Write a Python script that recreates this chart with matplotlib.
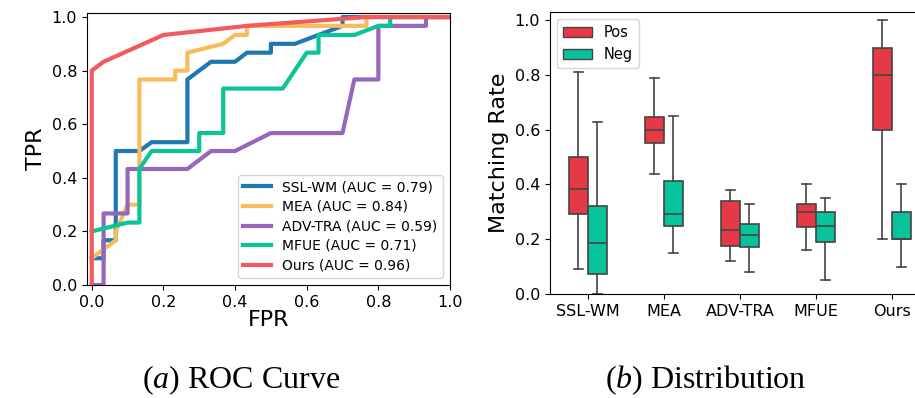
import matplotlib
matplotlib.use("Agg")
import matplotlib.pyplot as plt
from matplotlib.patches import Patch

# ---------------- data ----------------
roc_names = ["SSL-WM", "MEA", "ADV-TRA", "MFUE", "Ours"]
roc_auc = [0.79, 0.84, 0.59, 0.71, 0.96]
roc_colors = ["#1f77b4", "#f9bb5c", "#9467bd", "#0cc596", "#f25a5f"]

fpr_sslwm = [0, 0.033, 0.033, 0.067, 0.067, 0.133, 0.167, 0.267, 0.267, 0.333, 0.4, 0.433, 0.5, 0.5, 0.567, 0.7, 0.7, 1.0]
tpr_sslwm = [0.1, 0.1, 0.167, 0.167, 0.5, 0.5, 0.533, 0.533, 0.767, 0.833, 0.833, 0.867, 0.867, 0.9, 0.9, 0.967, 1.0, 1.0]

fpr_mea = [0, 0.067, 0.067, 0.1, 0.133, 0.133, 0.233, 0.233, 0.267, 0.267, 0.367, 0.4, 0.433, 0.433, 0.767, 0.767, 1.0]
tpr_mea = [0.1, 0.167, 0.2, 0.3, 0.3, 0.767, 0.767, 0.8, 0.8, 0.867, 0.9, 0.933, 0.933, 0.967, 0.967, 1.0, 1.0]

fpr_advtra = [0, 0.033, 0.033, 0.1, 0.1, 0.267, 0.333, 0.4, 0.5, 0.7, 0.733, 0.8, 0.8, 0.933, 0.933, 1.0]
tpr_advtra = [0, 0, 0.267, 0.267, 0.433, 0.433, 0.5, 0.5, 0.567, 0.567, 0.767, 0.767, 0.967, 0.967, 1.0, 1.0]

fpr_mfue = [0, 0.1, 0.133, 0.133, 0.167, 0.3, 0.3, 0.367, 0.367, 0.533, 0.6, 0.633, 0.633, 0.733, 0.8, 0.833, 0.833, 1.0]
tpr_mfue = [0.2, 0.233, 0.233, 0.433, 0.5, 0.5, 0.567, 0.567, 0.733, 0.733, 0.867, 0.867, 0.933, 0.933, 0.967, 0.967, 1.0, 1.0]

fpr_ours = [0, 0, 0.033, 0.2, 0.433, 0.767, 1.0]
tpr_ours = [0, 0.8, 0.833, 0.933, 0.967, 1.0, 1.0]

roc_fpr = [fpr_sslwm, fpr_mea, fpr_advtra, fpr_mfue, fpr_ours]
roc_tpr = [tpr_sslwm, tpr_mea, tpr_advtra, tpr_mfue, tpr_ours]

box_categories = ["SSL-WM", "MEA", "ADV-TRA", "MFUE", "Ours"]
# (whisker low, Q1, median, Q3, whisker high)
pos_stats = [
    (0.09, 0.292, 0.384, 0.50, 0.81),
    (0.44, 0.553, 0.60, 0.648, 0.79),
    (0.12, 0.177, 0.234, 0.34, 0.38),
    (0.16, 0.243, 0.30, 0.33, 0.40),
    (0.20, 0.60, 0.80, 0.90, 1.00),
]
neg_stats = [
    (0.00, 0.072, 0.188, 0.323, 0.63),
    (0.15, 0.25, 0.294, 0.411, 0.65),
    (0.08, 0.17, 0.215, 0.256, 0.33),
    (0.05, 0.191, 0.249, 0.299, 0.35),
    (0.10, 0.20, 0.20, 0.30, 0.40),
]
pos_color = "#e63946"
neg_color = "#06c39b"

# ---------------- figure ----------------
plt.rcParams["font.family"] = ["DejaVu Sans"]
plt.rcParams["mathtext.fontset"] = "custom"
plt.rcParams["mathtext.rm"] = "Liberation Serif"
plt.rcParams["mathtext.it"] = "Liberation Serif:italic"

fig = plt.figure(figsize=(9.15, 3.98), dpi=100)

# ROC axes
ax1 = fig.add_axes([0.0948, 0.2839, 0.4918 - 0.0948, 0.968 - 0.2839])
for name, auc, col, fx, ty in zip(roc_names, roc_auc, roc_colors, roc_fpr, roc_tpr):
    ax1.plot(fx, ty, color=col, lw=3, label=f"{name} (AUC = {auc:.2f})")
ax1.set_xlim(-0.014, 1.0)
ax1.set_ylim(0.0, 1.016)
ax1.set_xticks([0, 0.2, 0.4, 0.6, 0.8, 1.0])
ax1.set_yticks([0, 0.2, 0.4, 0.6, 0.8, 1.0])
ax1.tick_params(labelsize=11.5)
ax1.set_xlabel("FPR", fontsize=16, labelpad=0)
ax1.set_ylabel("TPR", fontsize=16, labelpad=4)
ax1.legend(loc="lower right", fontsize=10, labelspacing=0.4, handlelength=2.0)

# Box axes
ax2 = fig.add_axes([0.601, 0.2613, 380 / 915, 0.9698 - 0.2613])

def to_stats(s):
    lo, q1, med, q3, hi = s
    return dict(whislo=lo, q1=q1, med=med, q3=q3, whishi=hi, fliers=[])

edge = "#444444"
for i in range(len(box_categories)):
    for stats, off, col in ((pos_stats[i], -0.125, pos_color), (neg_stats[i], 0.125, neg_color)):
        ax2.bxp([to_stats(stats)], positions=[i + off], widths=0.25, patch_artist=True,
                showfliers=False,
                boxprops=dict(facecolor=col, edgecolor=edge, linewidth=1.2),
                whiskerprops=dict(color=edge, linewidth=1.2),
                capprops=dict(color=edge, linewidth=1.2),
                medianprops=dict(color=edge, linewidth=1.2))
ax2.set_xlim(-0.5, 4.5)
ax2.set_ylim(0.0, 1.03)
ax2.set_xticks(range(len(box_categories)))
ax2.set_xticklabels(box_categories)
ax2.set_yticks([0, 0.2, 0.4, 0.6, 0.8, 1.0])
ax2.tick_params(labelsize=11.5)
ax2.set_ylabel("Matching Rate", fontsize=16)
ax2.legend(handles=[Patch(facecolor=pos_color, edgecolor=edge, label="Pos"),
                    Patch(facecolor=neg_color, edgecolor=edge, label="Neg")],
           loc="upper left", fontsize=10.5)

fig.text(0.2634, 0.024, r"$\mathit{(a)}$ ROC Curve", fontsize=23,
         family="Liberation Serif", ha="center", va="baseline")
fig.text(0.771, 0.024, r"$\mathit{(b)}$ Distribution", fontsize=23,
         family="Liberation Serif", ha="center", va="baseline")

fig.savefig("out.png", dpi=100)
